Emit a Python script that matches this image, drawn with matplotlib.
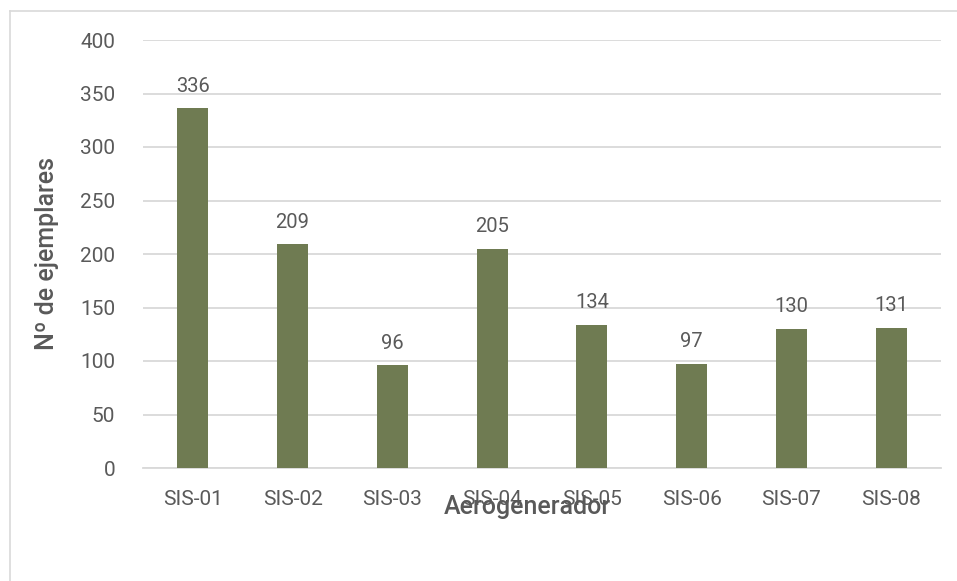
import matplotlib.pyplot as plt
from matplotlib.lines import Line2D

# datos del gráfico
aerogeneradores = ['SIS-01', 'SIS-02', 'SIS-03', 'SIS-04', 'SIS-05', 'SIS-06', 'SIS-07', 'SIS-08']
ejemplares = [336, 209, 96, 205, 134, 97, 130, 131]
yticks = [0, 50, 100, 150, 200, 250, 300, 350, 400]

color_barra = '#6F7B52'
color_texto = '#595959'
color_rejilla = '#D9D9D9'

plt.rcParams['font.family'] = ['Roboto', 'DejaVu Sans']

fig = plt.figure(figsize=(9.57, 5.81), dpi=100)
ax = fig.add_axes([143 / 957, 1 - 468 / 581, (941 - 143) / 957, (468 - 40) / 581])

x = range(len(aerogeneradores))
barras = ax.bar(x, ejemplares, width=0.31, color=color_barra, zorder=3)

for xi, v in zip(x, ejemplares):
    ax.annotate(str(v), (xi, v), xytext=(0, 16), textcoords='offset points',
                ha='center', va='center', fontsize=14.5, color='#5a5a5a')

ax.set_xlim(-0.5, len(aerogeneradores) - 0.5)
ax.set_ylim(0, 400)
ax.set_yticks(yticks)
ax.set_xticks(list(x))
ax.set_xticklabels(aerogeneradores)
ax.yaxis.grid(True, color=color_rejilla, linewidth=1.3, zorder=0)
ax.tick_params(axis='both', length=0, labelsize=15, labelcolor='#5a5a5a')
ax.tick_params(axis='x', pad=16)
ax.tick_params(axis='y', pad=20)

for s in ['top', 'right', 'left']:
    ax.spines[s].set_visible(False)
ax.spines['bottom'].set_color(color_rejilla)
ax.spines['bottom'].set_linewidth(1.3)

ax.set_ylabel('Nº de ejemplares', fontsize=18, color=color_texto, fontweight='medium')
ax.yaxis.set_label_coords((47 - 143) / (941 - 143), 0.5)
ax.set_xlabel('Aerogenerador', fontsize=18, color=color_texto, fontweight='medium')
ax.xaxis.set_label_coords(0.482, -(507 - 468) / (468 - 40))
ax.xaxis.label.set_va('center')
ax.yaxis.label.set_va('center')

# borde del gráfico
fig.add_artist(Line2D([10 / 957, 10 / 957], [0, 1 - 11 / 581], color='#D9D9D9', lw=1.2))
fig.add_artist(Line2D([10 / 957, 1], [1 - 11 / 581, 1 - 11 / 581], color='#D9D9D9', lw=1.2))

fig.savefig('out.png', dpi=100)
